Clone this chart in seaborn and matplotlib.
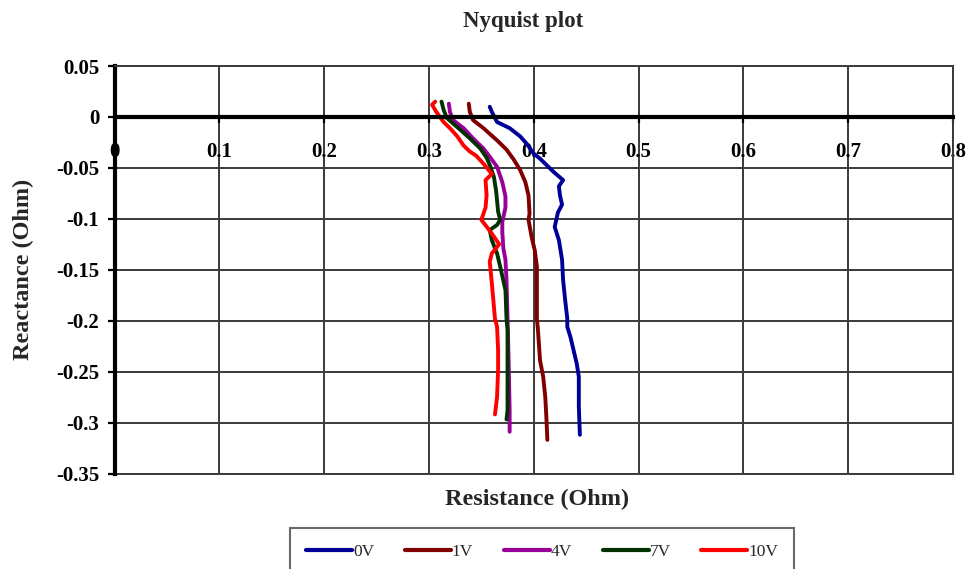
import numpy as np
import pandas as pd
import matplotlib
matplotlib.use("Agg")
import matplotlib.pyplot as plt
import seaborn as sns
from matplotlib.ticker import FuncFormatter

# Bias levels and their line colours
voltages = ["0V", "1V", "4V", "7V", "10V"]
colors = ["#000099", "#800000", "#990099", "#003300", "#ff0000"]

# Impedance traces (resistance, reactance) in Ohm for each bias
r_0v = [0.358, 0.360, 0.365, 0.377, 0.387, 0.393, 0.400, 0.406, 0.412, 0.419,
        0.428, 0.424, 0.425, 0.427, 0.423, 0.420, 0.424, 0.427, 0.428, 0.430,
        0.432, 0.432, 0.435, 0.438, 0.441, 0.443, 0.443, 0.444]
x_0v = [0.010, 0.005, -0.005, -0.011, -0.019, -0.026, -0.036, -0.041, -0.047, -0.054,
        -0.062, -0.068, -0.077, -0.086, -0.094, -0.108, -0.121, -0.140, -0.160, -0.180,
        -0.198, -0.206, -0.216, -0.229, -0.242, -0.255, -0.284, -0.312]

r_1v = [0.338, 0.339, 0.342, 0.352, 0.365, 0.374, 0.381, 0.387, 0.392, 0.395,
        0.396, 0.395, 0.398, 0.401, 0.403, 0.403, 0.403, 0.404, 0.406, 0.409,
        0.411, 0.412, 0.413]
x_1v = [0.013, 0.005, -0.003, -0.011, -0.023, -0.032, -0.042, -0.052, -0.064, -0.077,
        -0.095, -0.101, -0.118, -0.131, -0.147, -0.180, -0.198, -0.209, -0.239, -0.255,
        -0.275, -0.294, -0.317]

r_4v = [0.319, 0.320, 0.323, 0.333, 0.342, 0.352, 0.358, 0.365, 0.370, 0.373,
        0.373, 0.370, 0.370, 0.371, 0.373, 0.374, 0.375, 0.376, 0.377, 0.377]
x_4v = [0.013, 0.005, -0.003, -0.011, -0.021, -0.031, -0.039, -0.049, -0.064, -0.078,
        -0.089, -0.103, -0.113, -0.129, -0.140, -0.160, -0.198, -0.239, -0.288, -0.309]

r_7v = [0.312, 0.314, 0.317, 0.327, 0.339, 0.349, 0.355, 0.358, 0.362, 0.364,
        0.365, 0.366, 0.368, 0.365, 0.358, 0.360, 0.365, 0.368, 0.373, 0.374,
        0.375, 0.375, 0.375, 0.374]
x_7v = [0.015, 0.007, -0.001, -0.010, -0.021, -0.031, -0.040, -0.047, -0.059, -0.072,
        -0.082, -0.093, -0.101, -0.106, -0.111, -0.121, -0.134, -0.147, -0.170, -0.198,
        -0.209, -0.255, -0.288, -0.297]

r_10v = [0.306, 0.303, 0.307, 0.314, 0.320, 0.327, 0.333, 0.339, 0.345, 0.353,
         0.360, 0.354, 0.355, 0.354, 0.350, 0.359, 0.367, 0.360, 0.358, 0.360,
         0.363, 0.365, 0.366, 0.366, 0.365, 0.363]
x_10v = [0.015, 0.012, 0.005, -0.005, -0.011, -0.019, -0.028, -0.034, -0.038, -0.047,
         -0.056, -0.062, -0.077, -0.089, -0.101, -0.113, -0.125, -0.134, -0.142, -0.163,
         -0.198, -0.206, -0.229, -0.248, -0.275, -0.292]

series_r = [r_0v, r_1v, r_4v, r_7v, r_10v]
series_x = [x_0v, x_1v, x_4v, x_7v, x_10v]

x_ticks = [0, 0.1, 0.2, 0.3, 0.4, 0.5, 0.6, 0.7, 0.8]
y_ticks = [0.05, 0, -0.05, -0.1, -0.15, -0.2, -0.25, -0.3, -0.35]

frames = []
for v, r, x in zip(voltages, series_r, series_x):
    frames.append(pd.DataFrame({"Resistance": r, "Reactance": x, "Bias": v}))
df = pd.concat(frames, ignore_index=True)

sns.set_theme(style="white")
plt.rcParams["font.family"] = ["Liberation Serif", "DejaVu Serif"]
plt.rcParams["font.weight"] = "bold"
plt.rcParams["axes.unicode_minus"] = False

W, H = 967, 569
fig = plt.figure(figsize=(W / 100, H / 100), dpi=100)
ax = fig.add_axes([114.5 / W, 1 - 473.5 / H, (953 - 114.5) / W, (473.5 - 66) / H])

sns.lineplot(data=df, x="Resistance", y="Reactance", hue="Bias",
             hue_order=voltages, palette=colors, sort=False, estimator=None,
             lw=2.8, ax=ax)

ax.set_xlim(min(x_ticks), max(x_ticks))
ax.set_ylim(min(y_ticks), max(y_ticks))
ax.set_xticks(x_ticks)
ax.set_yticks(y_ticks)
fmt = FuncFormatter(lambda v, _: f"{v:g}" if abs(v) > 1e-9 else "0")
ax.xaxis.set_major_formatter(fmt)
ax.yaxis.set_major_formatter(fmt)

grid_color = "#3a3a3a"
ax.grid(True, color=grid_color, lw=1.4)
ax.set_axisbelow(True)

ax.spines["left"].set_color("black")
ax.spines["left"].set_linewidth(3)
ax.spines["bottom"].set_position(("data", 0))
ax.spines["bottom"].set_color("black")
ax.spines["bottom"].set_linewidth(3)
for side in ("top", "right"):
    ax.spines[side].set_color(grid_color)
    ax.spines[side].set_linewidth(1.4)
ax.axhline(min(y_ticks), color=grid_color, lw=1.4, clip_on=False, zorder=0.5)

ax.tick_params(axis="y", left=True, direction="out", length=5, width=1.6,
               pad=6, labelsize=15, colors="black")
ax.tick_params(axis="x", bottom=True, direction="out", length=4, width=1.6,
               pad=14, labelsize=15, colors="black")
for lbl in ax.get_xticklabels() + ax.get_yticklabels():
    lbl.set_fontweight("bold")

ax.set_xlabel("")
ax.set_ylabel("")

fig.text(523 / W, 1 - 21 / H, "Nyquist plot", ha="center", va="center",
         fontsize=16.5, fontweight="bold")
fig.text(537 / W, 1 - 499 / H, "Resistance (Ohm)", ha="center", va="center",
         fontsize=17.5, fontweight="bold")
fig.text(23 / W, 1 - 269 / H, "Reactance (Ohm)", ha="center", va="center",
         rotation=90, fontsize=17.5, fontweight="bold")

handles, labels = ax.get_legend_handles_labels()
ax.get_legend().remove()
leg = fig.legend(handles, labels, loc="upper left",
                 bbox_to_anchor=(290 / W, 1 - 528 / H), ncol=5, frameon=True,
                 fancybox=False, edgecolor="#444444", borderpad=0.9,
                 handlelength=2.65, handletextpad=0.08, columnspacing=1.75,
                 borderaxespad=0,
                 prop={"family": "Liberation Serif", "size": 12.5, "weight": "normal"})
leg.get_frame().set_linewidth(1.5)
for h in leg.legend_handles:
    h.set_linewidth(3)

fig.savefig("out.png", dpi=100)
